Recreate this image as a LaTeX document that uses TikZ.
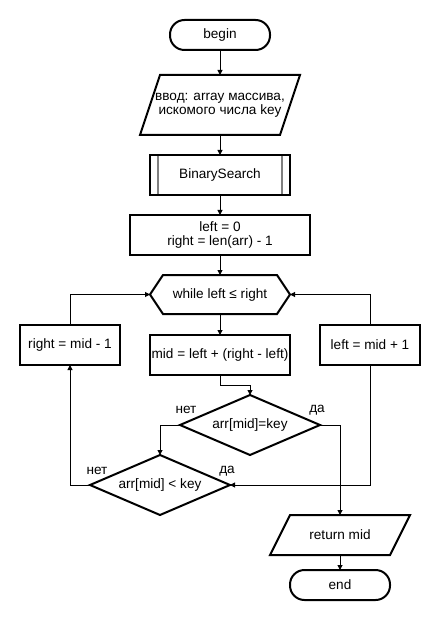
\documentclass[tikz,border=0pt]{standalone}
\usepackage{fontspec}
\setmainfont{Liberation Sans}
\usetikzlibrary{shapes.geometric,arrows.meta,calc}
\begin{document}
\begin{tikzpicture}[x=1pt,y=-1pt,
  every node/.style={font=\fontsize{13.6pt}{14pt}\selectfont, inner sep=0pt, outer sep=0pt},
  box/.style={draw, line width=2pt, rectangle},
  term/.style={draw, line width=2pt, rounded corners=14.5pt, minimum width=100pt, minimum height=30pt},
  dec/.style={draw, line width=2pt, diamond, aspect=2.33, minimum width=140pt, minimum height=60pt},
  outline/.style={draw, line width=2pt, line join=miter},
  conn/.style={line width=1pt, -{Triangle[length=5pt,width=5pt]}},
  lbl/.style={}]
\fill[white] (0,0) rectangle (440,620);
\useasboundingbox (0,0) rectangle (440,620);

\node[term] (begin) at (220,35) {begin};
\node[minimum width=160pt, minimum height=60pt, align=center] (inp) at (220,105) {ввод: array массива,\\искомого числа key};
\draw[outline] ($(inp.north west)+(20,0)$) -- (inp.north east) -- ($(inp.south east)+(-20,0)$) -- (inp.south west) -- cycle;
\node[box, minimum width=140pt, minimum height=40pt] (bs) at (220,175) {BinarySearch};
\draw[line width=1.6pt, gray] ($(bs.north west)+(8,1)$) -- ($(bs.south west)+(8,-1)$);
\draw[line width=1.6pt, gray] ($(bs.north east)+(-8,1)$) -- ($(bs.south east)+(-8,-1)$);
\node[box, minimum width=180pt, minimum height=40pt, align=center] (init) at (220,235) {left = 0\\right = len(arr) - 1};
\node[minimum width=140pt, minimum height=39pt] (loop) at (220,294.5) {while left ≤ right};
\draw[outline] (loop.west) -- ($(loop.north west)+(13,0)$) -- ($(loop.north east)+(-13,0)$) -- (loop.east) -- ($(loop.south east)+(-13,0)$) -- ($(loop.south west)+(13,0)$) -- cycle;
\node[box, minimum width=140pt, minimum height=40pt] (mid) at (220,355) {mid = left + (right - left)};
\node[box, minimum width=100pt, minimum height=40pt] (rr) at (70,345) {right = mid - 1};
\node[box, minimum width=100pt, minimum height=40pt] (ll) at (370,345) {left = mid + 1};
\node[dec] (d1) at (250,425) {arr[mid]=key};
\node[dec] (d2) at (160,485) {arr[mid] < key};
\node[minimum width=140pt, minimum height=40pt] (ret) at (340,535) {return mid};
\draw[outline] ($(ret.north west)+(20,0)$) -- (ret.north east) -- ($(ret.south east)+(-20,0)$) -- (ret.south west) -- cycle;
\node[term] (end) at (340,585) {end};

\node[lbl] (n1) at (186,410) {нет};
\node[lbl] (y1) at (317,410) {да};
\node[lbl] (n2) at (97,471) {нет};
\node[lbl] (y2) at (227,471) {да};

\draw[conn] (begin.south) -- (inp.north);
\draw[conn] (inp.south) -- (bs.north);
\draw[conn] (bs.south) -- (init.north);
\draw[conn] (init.south) -- (loop.north);
\draw[conn] (loop.south) -- (mid.north);
\draw[conn] (mid.south) -- ++(0,10) -| (d1.north);
\draw[conn] (d1.west) -| (d2.north);
\draw[conn] (d1.east) -| (ret.north);
\draw[conn] (d2.west) -| (rr.south);
\draw[conn] (rr.north) |- (loop.west);
\draw[conn] (ll.north) |- (loop.east);
\draw[conn] (ll.south) |- (d2.east);
\draw[conn] (ret.south) -- (end.north);
\end{tikzpicture}
\end{document}
